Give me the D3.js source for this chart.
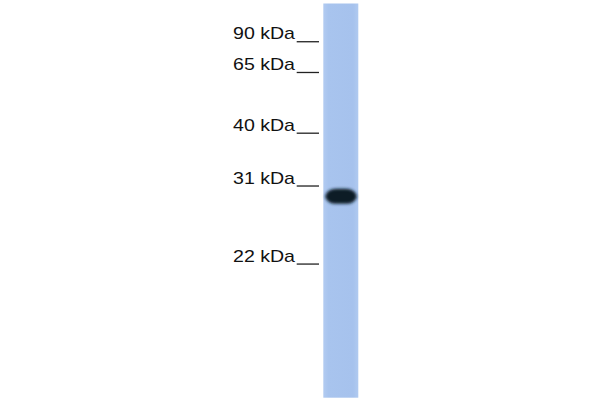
<!DOCTYPE html>
<html>
<head>
<meta charset="utf-8">
<script src="https://cdn.jsdelivr.net/npm/d3@7"></script>
<style>
  body { margin: 0; background: #fff; }
  text { font-family: "Liberation Sans", Arial, sans-serif; }
</style>
</head>
<body>
<script>
var width = 600,
    height = 400;

// marker ladder: size label and relative migration (0 = well, 1 = lane end)
var markerLabels = ["90 kDa", "65 kDa", "40 kDa", "31 kDa", "22 kDa"];
var markerRf = [0.097, 0.175, 0.329, 0.463, 0.661];

// detected band(s) in the single sample lane
var bandRf = [0.489];
var bandIntensity = [1];

var laneTop = 3.5,
    laneBottom = 397.7,
    laneX = 323.3,
    laneW = 35;

var y = d3.scaleLinear()
    .domain([0, 1])
    .range([laneTop, laneBottom]);

var svg = d3.select("body").append("svg")
    .attr("width", width)
    .attr("height", height);

var defs = svg.append("defs");

var grad = defs.append("linearGradient")
    .attr("id", "laneFill")
    .attr("x1", "0").attr("x2", "1").attr("y1", "0").attr("y2", "0");
grad.append("stop").attr("offset", "0%").attr("stop-color", "#b2cbf1");
grad.append("stop").attr("offset", "15%").attr("stop-color", "#a8c4ee");
grad.append("stop").attr("offset", "85%").attr("stop-color", "#a6c2ed");
grad.append("stop").attr("offset", "100%").attr("stop-color", "#b0caf0");

defs.append("filter")
    .attr("id", "blur")
    .attr("x", "-30%").attr("y", "-60%")
    .attr("width", "160%").attr("height", "220%")
  .append("feGaussianBlur")
    .attr("stdDeviation", 1.5);

// lane
svg.append("rect")
    .attr("x", laneX)
    .attr("y", y(0))
    .attr("width", laneW)
    .attr("height", y(1) - y(0))
    .attr("fill", "url(#laneFill)");

// band
svg.selectAll(".band")
    .data(bandRf)
  .enter().append("rect")
    .attr("class", "band")
    .attr("x", laneX + 2)
    .attr("y", function(d) { return y(d) - 7.6; })
    .attr("width", laneW - 3.5)
    .attr("height", 15.2)
    .attr("rx", 11)
    .attr("ry", 7.6)
    .attr("fill", "#0e1f27")
    .attr("fill-opacity", function(d, i) { return bandIntensity[i]; })
    .attr("filter", "url(#blur)");

// marker labels and ticks
var markers = svg.append("g")
    .selectAll("g")
    .data(markerRf)
  .enter().append("g")
    .attr("transform", function(d) { return "translate(0," + y(d) + ")"; });

markers.append("text")
    .attr("x", 295)
    .attr("y", -2.5)
    .attr("text-anchor", "end")
    .attr("font-size", 17)
    .attr("textLength", 62)
    .attr("lengthAdjust", "spacingAndGlyphs")
    .attr("fill", "#111")
    .text(function(d, i) { return markerLabels[i]; });

markers.append("line")
    .attr("x1", 296.7)
    .attr("x2", 319)
    .attr("stroke", "#222")
    .attr("stroke-width", 1.3);
</script>
</body>
</html>
